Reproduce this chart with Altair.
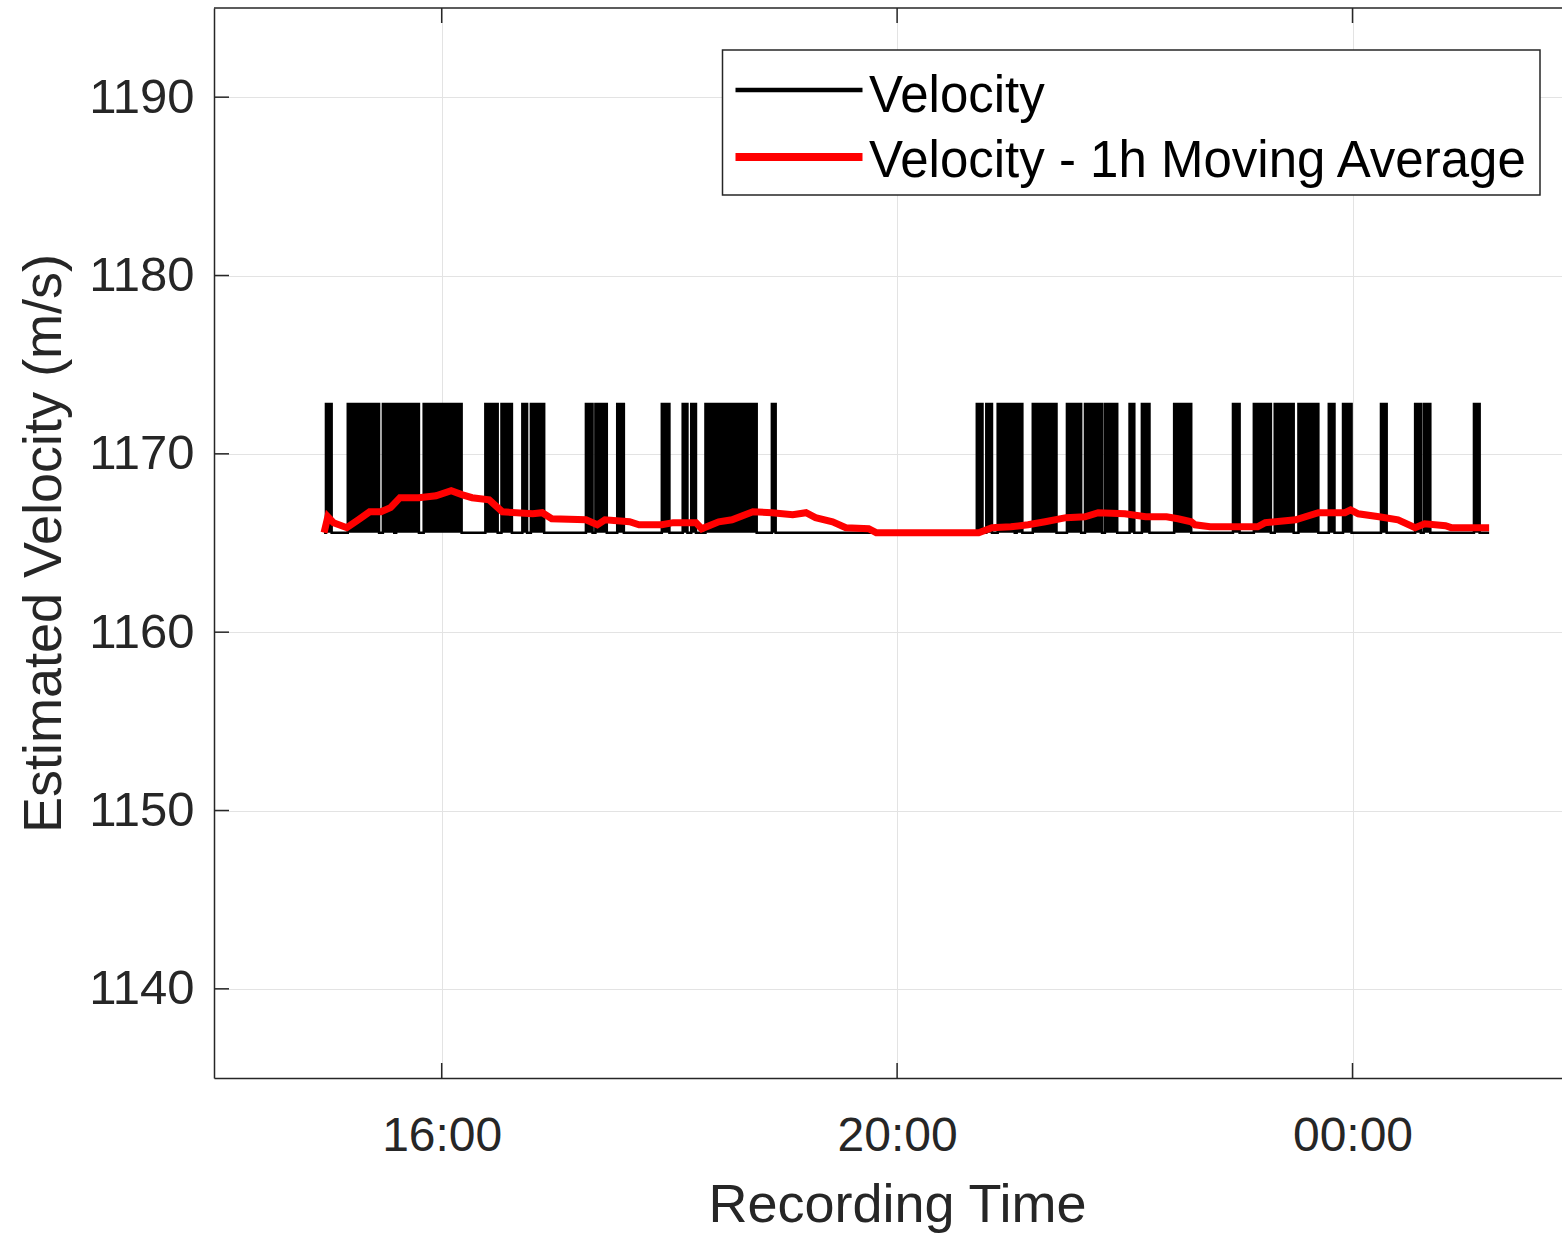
import altair as alt
import pandas as pd

# ---------------- data ----------------
VEL_LOW = 1165.58
VEL_HIGH = 1172.8
VEL_START = "14:58"
VEL_END = "01:12"
# intervals during which the velocity sits at the high level
HIGH_START = ["14:59", "15:10.5", "15:29", "15:36", "15:50.5", "16:23", "16:31.5", "16:42.5",
              "16:47", "17:16", "17:21", "17:32.5", "17:56", "18:07", "18:11.5", "18:19",
              "18:54", "20:42", "20:47", "20:53", "21:03", "21:11.5", "21:29.5", "21:39",
              "21:49.5", "22:02.5", "22:09", "22:26", "22:57", "23:08", "23:19", "23:31.5",
              "23:47.5", "23:55", "00:15", "00:33", "00:37.5", "01:04"]
HIGH_END = ["15:02", "15:27", "15:35", "15:48", "16:10.5", "16:29.5", "16:37", "16:45",
            "16:54", "17:19.5", "17:27", "17:36", "18:00", "18:09.5", "18:14", "18:46",
            "18:56", "20:45", "20:50", "21:02", "21:06", "21:24", "21:37", "21:48",
            "21:56", "22:05", "22:13", "22:35", "23:00.5", "23:17", "23:29", "23:42",
            "23:50.5", "23:59.5", "00:18", "00:36", "00:41", "01:07"]

MA_TIMES = ["14:58", "15:00", "15:03", "15:10", "15:16", "15:22", "15:28", "15:33", "15:38",
            "15:48", "15:57", "16:05", "16:11", "16:16", "16:25", "16:32", "16:48", "16:53",
            "16:58", "17:16", "17:22", "17:26", "17:39", "17:44", "17:56", "18:02", "18:14",
            "18:17", "18:26", "18:33", "18:44", "18:54", "19:05", "19:12", "19:17", "19:26",
            "19:33", "19:45", "19:49", "20:43", "20:50", "21:00", "21:09", "21:18", "21:29",
            "21:39", "21:46", "22:00", "22:11", "22:22", "22:28", "22:35", "22:37", "22:45",
            "23:10", "23:14", "23:30", "23:42", "23:56", "23:59", "00:03", "00:14", "00:24",
            "00:33", "00:38", "00:49", "00:52", "01:12"]
MA_VALUES = [1165.58, 1166.47, 1166.14, 1165.86, 1166.30, 1166.75, 1166.75, 1166.98, 1167.54,
             1167.54, 1167.65, 1167.93, 1167.70, 1167.54, 1167.42, 1166.75, 1166.64, 1166.70,
             1166.36, 1166.30, 1166.02, 1166.30, 1166.19, 1166.02, 1166.02, 1166.14, 1166.14,
             1165.80, 1166.19, 1166.30, 1166.75, 1166.70, 1166.58, 1166.70, 1166.42, 1166.19,
             1165.86, 1165.80, 1165.58, 1165.58, 1165.86, 1165.91, 1166.02, 1166.19, 1166.42,
             1166.47, 1166.70, 1166.64, 1166.47, 1166.47, 1166.36, 1166.19, 1166.02, 1165.91,
             1165.91, 1166.14, 1166.30, 1166.70, 1166.70, 1166.86, 1166.64, 1166.47, 1166.30,
             1165.86, 1166.08, 1165.97, 1165.86, 1165.86]

X_TICKS = [16, 20, 24]
Y_TICKS = [1140, 1150, 1160, 1170, 1180, 1190]
X_DOMAIN = [14, 25.84]
Y_DOMAIN = [1135, 1195]
LEGEND_LABELS = ["Velocity", "Velocity - 1h Moving Average"]
LEGEND_COLORS = ["#000000", "#ff0000"]
X_TITLE = "Recording Time"
Y_TITLE = "Estimated Velocity (m/s)"


def to_hours(s):
    h, m = s.split(":")
    v = int(h) + float(m) / 60.0
    if v < 12:
        v += 24
    return v


# step series of the velocity (outline + baseline)
rows = [{"t": to_hours(VEL_START), "v": VEL_LOW}]
for s, e in zip(HIGH_START, HIGH_END):
    ts, te = to_hours(s), to_hours(e)
    rows += [{"t": ts, "v": VEL_LOW}, {"t": ts, "v": VEL_HIGH},
             {"t": te, "v": VEL_HIGH}, {"t": te, "v": VEL_LOW}]
rows.append({"t": to_hours(VEL_END), "v": VEL_LOW})
vel = pd.DataFrame(rows)
vel["i"] = range(len(vel))

# dense switching blocks, drawn filled
blocks = pd.DataFrame({
    "t": [to_hours(s) for s in HIGH_START],
    "t2": [to_hours(e) for e in HIGH_END],
    "v": [VEL_HIGH] * len(HIGH_START),
    "v0": [VEL_LOW] * len(HIGH_START),
})

ma = pd.DataFrame({"t": [to_hours(s) for s in MA_TIMES], "v": MA_VALUES})
ma["i"] = range(len(ma))

W, H = 1348, 1070
FONT = "Liberation Sans"
AX = "#262626"
GRID = "#e3e3e3"

xs = alt.Scale(domain=X_DOMAIN, nice=False, zero=False)
ys = alt.Scale(domain=Y_DOMAIN, nice=False, zero=False)

x_axis = alt.Axis(values=X_TICKS,
                  labelExpr="(datum.value % 24 < 10 ? '0' : '') + (datum.value % 24) + ':00'",
                  grid=True, gridColor=GRID, gridWidth=1, ticks=False, tickSize=0,
                  domainColor=AX, domainWidth=1.5,
                  labelFont=FONT, labelFontSize=48, labelColor=AX, labelPadding=72,
                  labelBaseline="alphabetic", labelAlign="center",
                  title=X_TITLE, titleFont=FONT, titleFontSize=54, titleColor=AX,
                  titleFontWeight="normal", titleX=683, titleY=143,
                  titleAlign="center", titleBaseline="alphabetic")
y_axis = alt.Axis(values=Y_TICKS, format="d", grid=True, gridColor=GRID, gridWidth=1,
                  ticks=False, tickSize=0, domainColor=AX, domainWidth=1.5,
                  labelFont=FONT, labelFontSize=49, labelColor=AX, labelPadding=20,
                  title=Y_TITLE, titleFont=FONT, titleFontSize=54, titleColor=AX,
                  titleFontWeight="normal", titleAngle=270, titleX=-154, titleY=535,
                  titleAlign="center", titleBaseline="alphabetic")

X = alt.X("t:Q", scale=xs, axis=x_axis)
Y = alt.Y("v:Q", scale=ys, axis=y_axis)

vel_blocks = alt.Chart(blocks).mark_rect(color="#000000").encode(
    x=X, x2="t2:Q", y=Y, y2="v0:Q")
vel_line = alt.Chart(vel).mark_line(color="#000000", strokeWidth=2.5).encode(
    x=X, y=Y, order="i:Q")
ma_line = alt.Chart(ma).mark_line(color="#ff0000", strokeWidth=7).encode(
    x=X, y=Y, order="i:Q")

yt = pd.DataFrame({"v": Y_TICKS})
xt = pd.DataFrame({"t": X_TICKS})
ytick = alt.Chart(yt).mark_rule(color=AX, strokeWidth=1.5).encode(
    y=Y, x=alt.value(0), x2=alt.value(15))
xtick_b = alt.Chart(xt).mark_rule(color=AX, strokeWidth=1.5).encode(
    x=X, y=alt.value(H - 15), y2=alt.value(H))
xtick_t = alt.Chart(xt).mark_rule(color=AX, strokeWidth=1.5).encode(
    x=X, y=alt.value(0), y2=alt.value(15))
top_border = alt.Chart(pd.DataFrame({"k": [0]})).mark_rule(color=AX, strokeWidth=1.5).encode(
    x=alt.value(0), x2=alt.value(W), y=alt.value(0))

leg = pd.DataFrame({"label": LEGEND_LABELS, "color": LEGEND_COLORS})
leg_box = alt.Chart(pd.DataFrame({"k": [0]})).mark_rect(
    fill="white", stroke=AX, strokeWidth=1.5).encode(
    x=alt.value(508.5), x2=alt.value(1326), y=alt.value(42), y2=alt.value(187))
leg_l1 = alt.Chart(leg.iloc[[0]]).mark_rule(strokeWidth=4.5).encode(
    x=alt.value(521.5), x2=alt.value(648.5), y=alt.value(82),
    color=alt.Color("color:N", scale=None))
leg_l2 = alt.Chart(leg.iloc[[1]]).mark_rule(strokeWidth=8).encode(
    x=alt.value(521.5), x2=alt.value(648.5), y=alt.value(149),
    color=alt.Color("color:N", scale=None))
leg_t1 = alt.Chart(leg.iloc[[0]]).mark_text(
    font=FONT, fontSize=51, color="#000000", align="left", baseline="alphabetic").encode(
    x=alt.value(655), y=alt.value(104), text="label:N")
leg_t2 = alt.Chart(leg.iloc[[1]]).mark_text(
    font=FONT, fontSize=51, color="#000000", align="left", baseline="alphabetic").encode(
    x=alt.value(655), y=alt.value(169), text="label:N")

chart = alt.layer(
    vel_blocks, vel_line, ma_line, ytick, xtick_b, xtick_t, top_border,
    leg_box, leg_l1, leg_l2, leg_t1, leg_t2
).properties(
    width=W, height=H,
    autosize=alt.AutoSizeParams(type="none"),
    padding={"left": 214, "top": 8, "right": 0, "bottom": 156},
    background="white",
).configure_view(stroke=None)

chart.save("out.html", embed_options={"renderer": "svg", "actions": False})
